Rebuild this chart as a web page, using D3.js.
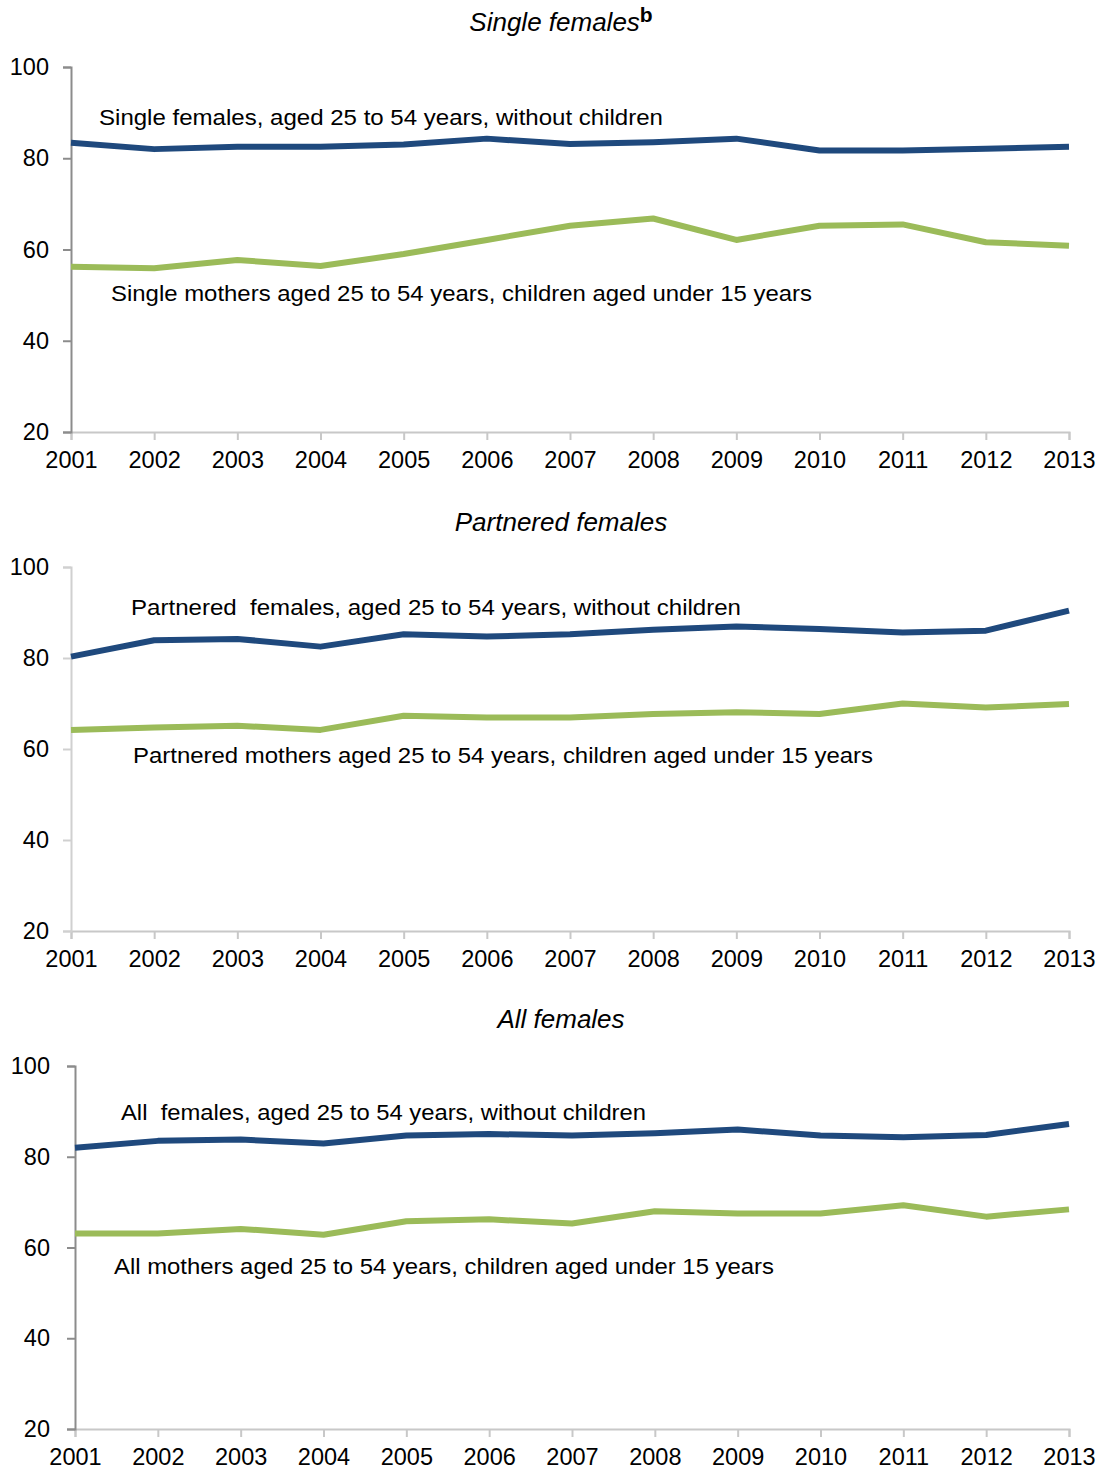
<!DOCTYPE html>
<html><head><meta charset="utf-8">
<script src="https://cdn.jsdelivr.net/npm/d3@7"></script>
<style>body{margin:0;background:#fff}svg{display:block}text{font-family:"Liberation Sans",Arial,sans-serif;fill:#000}</style>
</head><body><svg id="c" width="1102" height="1470"></svg>
<script>
const years = [2001,2002,2003,2004,2005,2006,2007,2008,2009,2010,2011,2012,2013];
const yTicks = [20,40,60,80,100];
const panelTitles = ["Single females","Partnered females","All females"];
const panelTitleSup = ["b","",""];
const singleWithout = [83.4,82.0,82.5,82.5,83.0,84.3,83.1,83.5,84.3,81.7,81.7,82.1,82.5];
const singleMothers = [56.2,55.9,57.7,56.4,59.0,62.1,65.2,66.8,62.1,65.2,65.5,61.6,60.8];
const partneredWithout = [80.3,83.9,84.2,82.5,85.2,84.7,85.2,86.2,86.9,86.4,85.6,86.0,90.4];
const partneredMothers = [64.2,64.7,65.1,64.2,67.3,66.9,66.9,67.7,68.1,67.7,70.0,69.1,69.9];
const allWithout = [82.0,83.5,83.8,82.9,84.7,85.0,84.7,85.2,86.0,84.7,84.3,84.8,87.2];
const allMothers = [63.1,63.1,64.1,62.8,65.8,66.2,65.3,68.0,67.5,67.5,69.3,66.8,68.4];
const labelsWithout = ["Single females, aged 25 to 54 years, without children","Partnered  females, aged 25 to 54 years, without children","All  females, aged 25 to 54 years, without children"];
const labelsMothers = ["Single mothers aged 25 to 54 years, children aged under 15 years","Partnered mothers aged 25 to 54 years, children aged under 15 years","All mothers aged 25 to 54 years, children aged under 15 years"];
const seriesWithout = [singleWithout, partneredWithout, allWithout];
const seriesMothers = [singleMothers, partneredMothers, allMothers];

const svg = d3.select("#c");
const layout = [
  {x0:71, x1:1069, yTop:67, yBot:432, titleY:31, yAxisCol:"#8c8c8c", yPad:14,
   l1:{x:99,y:125,w:564}, l2:{x:111,y:301,w:701}},
  {x0:71, x1:1069, yTop:567, yBot:931, titleY:531, yAxisCol:"#d0d0d0", yPad:14,
   l1:{x:131,y:615,w:610}, l2:{x:133,y:763,w:740}},
  {x0:75, x1:1069, yTop:1066, yBot:1429, titleY:1028, yAxisCol:"#8c8c8c", yPad:17,
   l1:{x:121,y:1120,w:525}, l2:{x:114,y:1274,w:660}}
];
const blue = "#1F497D", green = "#9BBB59";

layout.forEach((L,i)=>{
  const g = svg.append("g");
  const x = d3.scalePoint().domain(years).range([L.x0, L.x1]);
  const y = d3.scaleLinear().domain([20,100]).range([L.yBot, L.yTop]);
  // title
  const t = g.append("text").attr("x", 561).attr("y", L.titleY).attr("text-anchor","middle")
    .style("font-size","26px").style("font-style","italic").text(panelTitles[i]);
  if (panelTitleSup[i]) t.append("tspan").attr("dy",-9).style("font-style","normal")
    .style("font-weight","bold").style("font-size","21px").text(panelTitleSup[i]);
  // x axis
  const xa = g.append("g").attr("transform",`translate(0,${L.yBot})`)
    .call(d3.axisBottom(x).tickSizeOuter(0).tickSize(8).tickPadding(11));
  xa.select(".domain").attr("stroke","#c8c8c8").attr("stroke-width",2);
  xa.selectAll(".tick line").attr("stroke","#c8c8c8").attr("stroke-width",2);
  xa.selectAll(".tick text").style("font-size","23.5px").attr("fill","#000").attr("font-family",null);
  // y axis
  const ya = g.append("g").attr("transform",`translate(${L.x0},0)`)
    .call(d3.axisLeft(y).tickValues(yTicks).tickSizeOuter(0).tickSize(8).tickPadding(L.yPad));
  ya.select(".domain").attr("stroke",L.yAxisCol).attr("stroke-width",2);
  ya.selectAll(".tick line").attr("stroke",L.yAxisCol).attr("stroke-width",2);
  ya.selectAll(".tick text").style("font-size","23.5px").attr("fill","#000").attr("font-family",null);
  // lines
  const line = d3.line().x((d,k)=>x(years[k])).y(d=>y(d));
  g.append("path").datum(seriesWithout[i]).attr("d",line).attr("fill","none")
    .attr("stroke",blue).attr("stroke-width",6).attr("stroke-linejoin","round");
  g.append("path").datum(seriesMothers[i]).attr("d",line).attr("fill","none")
    .attr("stroke",green).attr("stroke-width",6).attr("stroke-linejoin","round");
  // labels
  g.append("text").attr("x",L.l1.x).attr("y",L.l1.y).style("font-size","22.5px")
    .attr("textLength",L.l1.w).attr("lengthAdjust","spacingAndGlyphs").style("white-space","pre").text(labelsWithout[i]);
  g.append("text").attr("x",L.l2.x).attr("y",L.l2.y).style("font-size","22.5px")
    .attr("textLength",L.l2.w).attr("lengthAdjust","spacingAndGlyphs").style("white-space","pre").text(labelsMothers[i]);
});
</script></body></html>
